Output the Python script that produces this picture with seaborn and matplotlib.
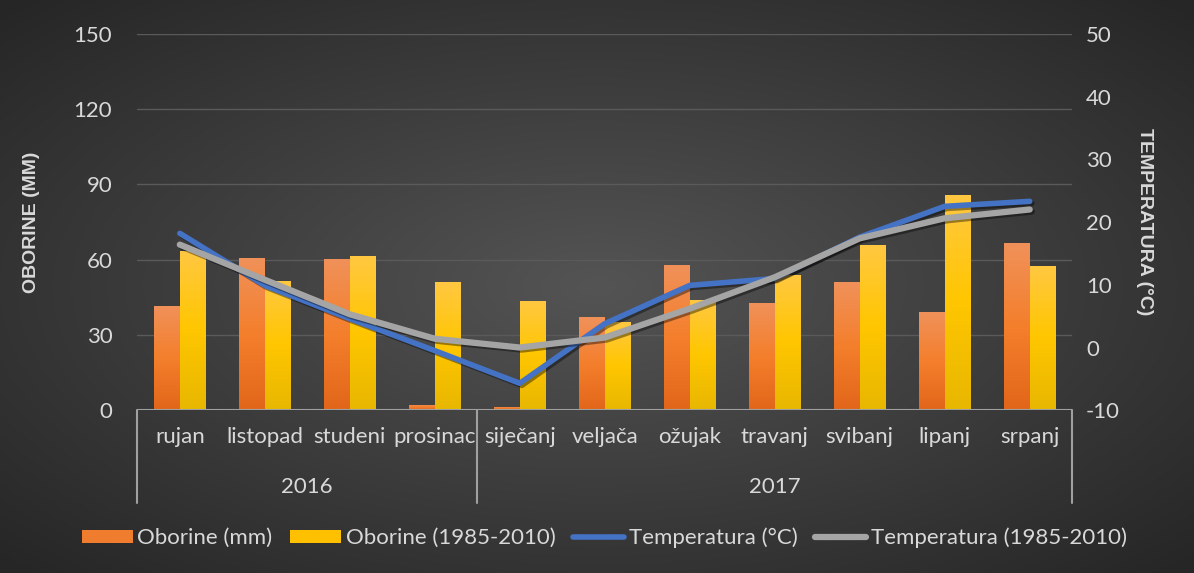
import numpy as np
import pandas as pd
import matplotlib
matplotlib.use("Agg")
import matplotlib.pyplot as plt
import matplotlib.patheffects as pe
from matplotlib.colors import LinearSegmentedColormap
from matplotlib.patches import Patch
from matplotlib.lines import Line2D
import seaborn as sns

# data
months = ["rujan", "listopad", "studeni", "prosinac", "siječanj", "veljača",
          "ožujak", "travanj", "svibanj", "lipanj", "srpanj"]
years = ["2016", "2017"]
year_spans = [(0, 3), (4, 10)]
oborine = [41.5, 60.6, 60.2, 2.0, 1.5, 37.0, 58.0, 42.7, 51.0, 39.0, 66.6]
oborine_avg = [63.4, 51.5, 61.5, 51.0, 43.5, 35.0, 44.0, 54.0, 65.8, 85.8, 57.4]
temperatura = [18.2, 9.9, 4.6, -0.5, -5.7, 3.8, 9.9, 11.0, 17.6, 22.5, 23.3]
temperatura_avg = [16.4, 10.8, 5.3, 1.4, 0.0, 1.6, 6.2, 11.2, 17.4, 20.6, 22.0]

s_obo = "Oborine (mm)"
s_obo_avg = "Oborine (1985-2010)"
s_temp = "Temperatura (°C)"
s_temp_avg = "Temperatura (1985-2010)"

txt = "#d9d9d9"
fs = 16
title_font = ["Liberation Sans", "DejaVu Sans"]
sns.set_style("dark")
plt.rcParams["font.family"] = ["Lato", "DejaVu Sans"]
plt.rcParams["axes.unicode_minus"] = False

bars = pd.DataFrame({
    "mjesec": months * 2,
    "serija": [s_obo] * len(months) + [s_obo_avg] * len(months),
    "mm": oborine + oborine_avg,
})

fig = plt.figure(figsize=(11.94, 5.73), dpi=100)

# radial dark background
bg = fig.add_axes([0, 0, 1, 1], zorder=-10)
yy, xx = np.mgrid[-1:1:300j, -1:1:600j]
rr = np.sqrt(xx ** 2 + yy ** 2)
bg_cmap = LinearSegmentedColormap.from_list("bg", ["#545454", "#262626"])
bg.imshow(rr, cmap=bg_cmap, aspect="auto", extent=[0, 1, 0, 1], vmin=0, vmax=1.4)
bg.axis("off")

ax = fig.add_axes([0.115, 0.284, 0.783, 0.657])
ax.set_facecolor("none")
sns.barplot(data=bars, x="mjesec", y="mm", hue="serija",
            palette=["#ED7D31", "#FFC000"], width=0.61, gap=0,
            saturation=1, legend=False, ax=ax, zorder=2, linewidth=0)

# gradient fill for the bars
grad = np.linspace(0, 1, 100).reshape(-1, 1)
cm_or = LinearSegmentedColormap.from_list("or", ["#f0915a", "#f47f2c", "#e2661a"])
cm_ye = LinearSegmentedColormap.from_list("ye", ["#ffc841", "#ffc600", "#e8b700"])
n = len(months)
for i, p in enumerate(ax.patches):
    x0, y0 = p.get_x(), p.get_y()
    w, h = p.get_width(), p.get_height()
    im = ax.imshow(grad, cmap=cm_or if i < n else cm_ye, aspect="auto",
                   extent=[x0, x0 + w, y0, y0 + h], origin="upper", zorder=2.5)
    im.set_clip_path(p)

ax.set_xlim(-0.5, len(months) - 0.5)
ax.set_ylim(0, 150)
ax.set_yticks(range(0, 151, 30))
ax.grid(axis="y", color="#5a5a5a", linewidth=1)
ax.grid(axis="x", visible=False)
for sp in ax.spines.values():
    sp.set_visible(False)
ax.axhline(0, color="#a0a0a0", linewidth=1.5, zorder=3)
ax.tick_params(axis="y", colors=txt, labelsize=fs, length=0, pad=18)
ax.tick_params(axis="x", colors=txt, labelsize=fs, length=0, pad=12)
ax.set_xlabel("")
ax.set_ylabel("OBORINE (MM)", color=txt, fontsize=14, fontweight="bold",
              family=title_font, labelpad=24)

# multi-level category axis
trans = ax.get_xaxis_transform()
for xb in [-0.5, 3.5, len(months) - 0.5]:
    ax.plot([xb, xb], [0, -0.245], color="#a0a0a0", linewidth=1.5,
            transform=trans, clip_on=False)
for yr, (a, b) in zip(years, year_spans):
    ax.text((a + b) / 2, -0.205, yr, transform=trans, ha="center", va="center",
            color=txt, fontsize=fs)

ax2 = ax.twinx()
shadow = [pe.SimpleLineShadow(offset=(1.5, -1.5), alpha=0.4), pe.Normal()]
sns.lineplot(x=np.arange(n), y=temperatura, color="#4472C4", linewidth=4,
             solid_capstyle="round", ax=ax2, path_effects=shadow)
sns.lineplot(x=np.arange(n), y=temperatura_avg, color="#A5A5A5", linewidth=4.5,
             solid_capstyle="round", ax=ax2, path_effects=shadow)
ax2.set_ylim(-10, 50)
ax2.set_yticks(range(-10, 51, 10))
ax2.grid(False)
for sp in ax2.spines.values():
    sp.set_visible(False)
ax2.tick_params(axis="y", colors=txt, labelsize=fs, length=0, pad=10)
ax2.set_ylabel("TEMPERATURA (°C)", color=txt, fontsize=14, fontweight="bold",
               family=title_font, rotation=270, labelpad=24)
ax2.set_xlim(-0.5, n - 0.5)

handles = [
    Patch(facecolor="#F07C2E", edgecolor="none", label=s_obo),
    Patch(facecolor="#FFC000", edgecolor="none", label=s_obo_avg),
    Line2D([0], [0], color="#4472C4", linewidth=4, solid_capstyle="round", label=s_temp),
    Line2D([0], [0], color="#A5A5A5", linewidth=4.5, solid_capstyle="round", label=s_temp_avg),
]
fig.legend(handles=handles, loc="center", bbox_to_anchor=(0.506, 0.061), ncol=4,
           frameon=False, fontsize=fs, labelcolor=txt, handlelength=2.3,
           handleheight=0.55, handletextpad=0.2, columnspacing=0.8)

fig.savefig("out.png", dpi=100)
